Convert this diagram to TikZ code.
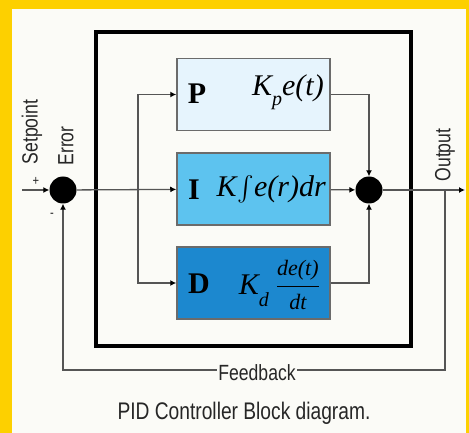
\documentclass[tikz,border=0pt]{standalone}
\usepackage{amsmath}
\usepackage{fontspec}
\setmainfont{Liberation Serif}
\newfontfamily\narrow[FakeStretch=0.8]{Liberation Sans}
\usetikzlibrary{arrows.meta}
\definecolor{ylw}{HTML}{FDD000}
\definecolor{bg}{HTML}{FBFBF7}
\definecolor{pfill}{HTML}{E6F4FD}
\definecolor{ifill}{HTML}{5DC3EF}
\definecolor{dfill}{HTML}{1C88CF}
\definecolor{bord}{HTML}{6B6B6B}
\definecolor{wire}{HTML}{555555}
\tikzset{
  blk/.style={draw=bord, line width=1.5pt, minimum width=153pt, minimum height=72pt, inner sep=0pt},
  sumj/.style={circle, fill=black, minimum size=27pt, inner sep=0pt},
  wr/.style={draw=wire, line width=1.3pt},
  arr/.style={wr, -{Latex[length=6pt,width=6pt,black]}},
  lbl/.style={font=\narrow\fontsize{22}{24}\selectfont, text=black!85, inner sep=1pt},
  bt/.style={font=\fontsize{30}{34}\selectfont, inner sep=0pt}
}
\begin{document}
\begin{tikzpicture}[x=1pt,y=-1pt]
\fill[ylw] (0,0) rectangle (469,433);
\fill[bg] (12,9) rectangle (466,433);
\useasboundingbox (0,0) rectangle (469,433);
% controller frame
\node[draw=black, line width=4pt, minimum width=315pt, minimum height=314pt, inner sep=0pt] (ctrl) at (253.5,189) {};
% blocks
\node[blk, fill=pfill] (P) at (253.5,94.5) {};
\node[blk, fill=ifill] (I) at (253.5,189) {};
\node[blk, fill=dfill] (D) at (253.5,283) {};
\node[bt] (Pl) at (197,94) {\textbf{P}};
\node[bt, anchor=east] (Pf) at (324,92) {\itshape K\raisebox{-10pt}{\fontsize{20}{22}\selectfont p}e(t)};
\node[bt] (Il) at (194,190) {\textbf{I}};
\node[bt, anchor=east] (If) at (326,189) {\itshape K\hspace{0.5pt}\raisebox{1pt}{\fontsize{30}{32}\selectfont$\int$}\hspace{0.5pt}e(r)dr};
\node[bt] (Dl) at (199,284) {\textbf{D}};
\node[bt, anchor=east] (Df) at (320,285) {\itshape K\raisebox{-12pt}{\fontsize{20}{22}\selectfont d}\hspace{7pt}\raisebox{2pt}{$\dfrac{\text{\fontsize{22}{24}\selectfont\itshape de(t)}}{\text{\fontsize{22}{24}\selectfont\itshape dt}}$}};
% summing junctions
\node[sumj] (sL) at (63,190) {};
\node[sumj] (sR) at (369,190) {};
% coordinates
\coordinate (in) at (22,190);
\coordinate (br) at (138,190);
\coordinate (out) at (465,190);
\coordinate (fb) at (445,190);
\coordinate (fb1) at (445,370);
\coordinate (fb2) at (63,370);
% wires
\draw[arr] (in) -- (sL);
\draw[arr] (sL) -- (I);
\draw[arr] (br) |- (P.west);
\draw[arr] (br) |- (D.west);
\draw[arr] (P.east) -| (sR.north);
\draw[arr] (D.east) -| (sR.south);
\draw[arr] (I) -- (sR);
\draw[arr] (sR) -- (out);
\draw[arr] (fb) -- (fb1) -- (fb2) -- (sL.south);
% labels
\node[lbl, fill=bg] (fbl) at (257,373) {Feedback};
\node[lbl, rotate=90] (spl) at (32,132) {Setpoint};
\node[lbl, rotate=90] (errl) at (66,146) {Error};
\node[lbl, rotate=90] (outl) at (445,155) {Output};
\node[lbl, font=\narrow\fontsize{14}{16}\selectfont] (plus) at (36,181) {+};
\node[lbl, font=\narrow\fontsize{14}{16}\selectfont] (minus) at (52,215) {-};
\node[lbl, font=\narrow\fontsize{24}{26}\selectfont] (cap) at (244,413) {PID Controller Block diagram.};
\end{tikzpicture}
\end{document}
